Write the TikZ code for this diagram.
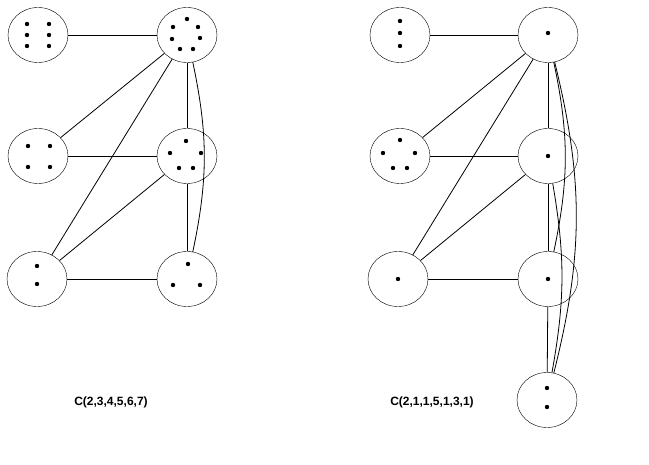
\documentclass[tikz,border=0pt]{standalone}
\usepackage{fontspec}
\setmainfont{Liberation Sans}
\usetikzlibrary{calc, shapes.geometric}

\begin{document}
\begin{tikzpicture}[
        x=1pt, y=-1pt,
        blob/.style={ellipse, draw, minimum width=60pt, minimum height=55pt, inner sep=0pt},
        link/.style={thick},
        caption/.style={font=\fontsize{12}{14}\selectfont\bfseries},
    ]
        \useasboundingbox (0,0) rectangle (649,465);
        % left graph
        \node[blob] (a1) at (38,35) {};
        \node[blob] (a2) at (187,35) {};
        \node[blob] (a3) at (38,156) {};
        \node[blob] (a4) at (187,156) {};
        \node[blob] (a5) at (37,279) {};
        \node[blob] (a6) at (187,279) {};
        \foreach \p/\q in {a1/{-11/-11,11/-11,-11/0,11/0,-11/11,11/11},
                           a2/{0/-16,-14/-8,11/-8,-15/4,13/3,-7/14,6/14},
                           a3/{-10/-10,12/-10,-10/11,12/11},
                           a4/{-1/-15,-17/-3,14/-3,-8/12,6/12},
                           a5/{0/-13,0/5},
                           a6/{1/-15,-14/6,13/6}}
            \foreach \dx/\dy in \q
                \fill ($(\p)+(\dx,\dy)$) circle (2.2pt);
        \draw[link] (a1) -- (a2);
        \draw[link] (a2) -- (a3);
        \draw[link] (a2) -- (a5);
        \draw[link] (a2) -- (a4);
        \draw[link] (a3) -- (a4);
        \draw[link] (a4) -- (a5);
        \draw[link] (a4) -- (a6);
        \draw[link] (a5) -- (a6);
        \draw[link] (a2) to[bend left=12] (a6);
        \node[caption] (capa) at (111,402) {C(2,3,4,5,6,7)};

        % right graph
        \node[blob] (b1) at (400,35) {};
        \node[blob] (b2) at (548,35) {};
        \node[blob] (b3) at (400,156) {};
        \node[blob] (b4) at (548,156) {};
        \node[blob] (b5) at (398,279) {};
        \node[blob] (b6) at (548,279) {};
        \node[blob] (b7) at (547,400) {};
        \foreach \p/\q in {b1/{0/-14,0/-2,0/11},
                           b2/{0/-2},
                           b3/{0/-16,-17/-3,15/-3,-7/12,7/12},
                           b4/{0/0},
                           b5/{0/0},
                           b6/{0/0},
                           b7/{0/-12,0/7}}
            \foreach \dx/\dy in \q
                \fill ($(\p)+(\dx,\dy)$) circle (2.2pt);
        \draw[link] (b1) -- (b2);
        \draw[link] (b2) -- (b3);
        \draw[link] (b2) -- (b5);
        \draw[link] (b2) -- (b4);
        \draw[link] (b3) -- (b4);
        \draw[link] (b4) -- (b5);
        \draw[link] (b4) -- (b6);
        \draw[link] (b5) -- (b6);
        \draw[link] (b6) -- (b7);
        \draw[link] (b2) to[bend left=12] (b6);
        \draw[link] (b2) to[bend left=14] (b7);
        \draw[link] (b4) to[bend left=10] (b7);
        \node[caption] (capb) at (432,402) {C(2,1,1,5,1,3,1)};
    \end{tikzpicture}
\end{document}
